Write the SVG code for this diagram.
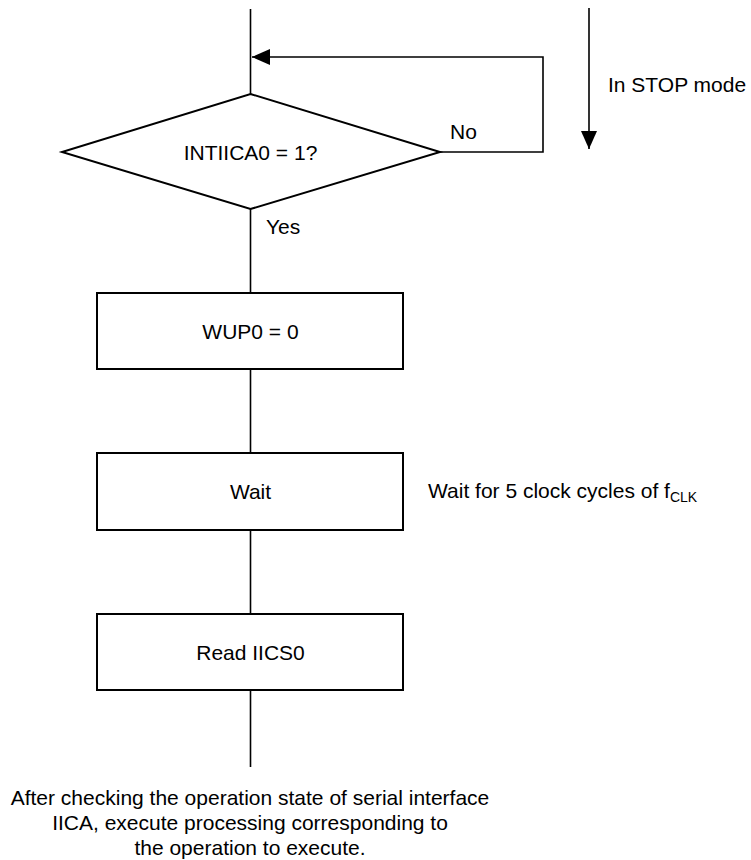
<svg xmlns="http://www.w3.org/2000/svg" width="751" height="860" viewBox="0 0 751 860">
<style>
text{font-family:"Liberation Sans",Arial,sans-serif;font-size:21px;fill:#000}
.c{text-anchor:middle}
.shape{fill:#fff;stroke:#000;stroke-width:2}
.line{fill:none;stroke:#000;stroke-width:1.6}
</style>
<defs>
<marker id="ah" viewBox="0 0 18 16" refX="18" refY="8" markerWidth="18" markerHeight="16" markerUnits="userSpaceOnUse" orient="auto">
<path d="M0,0 L18,8 L0,16 Z" fill="#000"/>
</marker>
</defs>
<rect width="751" height="860" fill="#fff"/>
<g id="connectors">
<line class="line" x1="250.5" y1="9" x2="250.5" y2="94"/>
<polyline class="line" points="440,152 543,152 543,57 252,57" marker-end="url(#ah)"/>
<line class="line" x1="250.5" y1="209" x2="250.5" y2="293"/>
<line class="line" x1="250.5" y1="369" x2="250.5" y2="453"/>
<line class="line" x1="250.5" y1="530" x2="250.5" y2="614"/>
<line class="line" x1="250.5" y1="690" x2="250.5" y2="767"/>
<line class="line" x1="589" y1="8" x2="589" y2="149" marker-end="url(#ah)"/>
</g>
<g id="decision">
<polygon class="shape" points="250.5,94 440,152 250.5,209 62,152"/>
<text class="c" x="250.5" y="160">INTIICA0 = 1?</text>
<text x="450" y="139">No</text>
<text x="266" y="234">Yes</text>
</g>
<g id="stop-label">
<text x="608" y="92">In STOP mode</text>
</g>
<g id="wup0">
<rect class="shape" x="97" y="293" width="306" height="76"/>
<text class="c" x="250.5" y="338.5">WUP0 = 0</text>
</g>
<g id="wait">
<rect class="shape" x="97" y="453" width="306" height="77"/>
<text class="c" x="250.5" y="499">Wait</text>
<text x="428" y="498">Wait for 5 clock cycles of f<tspan font-size="14" dy="4">CLK</tspan></text>
</g>
<g id="read">
<rect class="shape" x="97" y="614" width="306" height="76"/>
<text class="c" x="250.5" y="660">Read IICS0</text>
</g>
<g id="note">
<text class="c" x="250" y="805">After checking the operation state of serial interface</text>
<text class="c" x="250" y="830">IICA, execute processing corresponding to</text>
<text class="c" x="250" y="855">the operation to execute.</text>
</g>
</svg>
